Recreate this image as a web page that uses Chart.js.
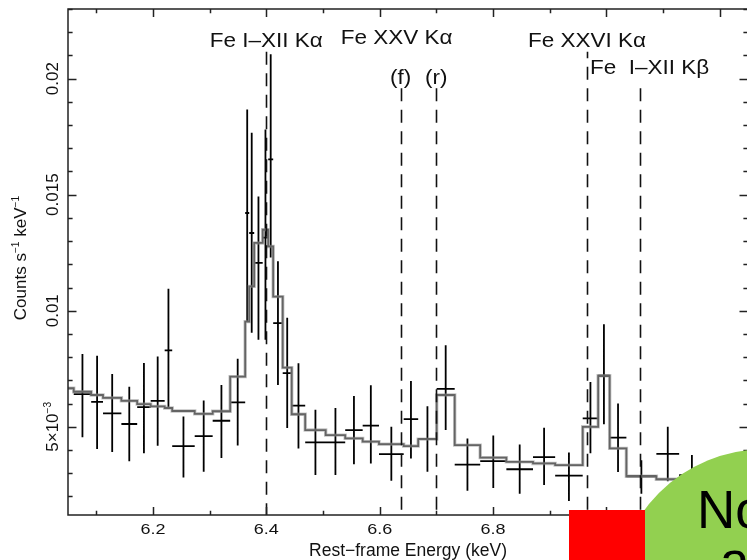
<!DOCTYPE html>
<html>
<head>
<meta charset="utf-8">
<title>Fe K line region</title>
<script src="https://cdn.jsdelivr.net/npm/chart.js@4.4.1/dist/chart.umd.min.js"></script>
<style>
  html, body { margin: 0; padding: 0; overflow: hidden; background: #fff; width: 747px; height: 560px; }
  #wrap { position: absolute; left: 0; top: 0; width: 760px; height: 560px; }
  .disc { position: absolute; left: 615px; top: 449px; width: 300px; height: 300px; border-radius: 50%; background: #92D050; }
  .block { position: absolute; left: 569px; top: 510px; width: 76px; height: 50px; background: #FF0000; }
  .note { position: absolute; font-family: "Liberation Sans", Arial, sans-serif; font-size: 53px; line-height: 53px; color: #000; white-space: nowrap; }
</style>
</head>
<body>
<div id="wrap"><canvas id="spec" width="760" height="560"></canvas></div>
<div class="disc"></div>
<div class="block"></div>
<div class="note" style="left:697px; top:483px;">No</div>
<div class="note" style="left:720px; top:534px;">a</div>
<script>
// Grouped spectrum bins (rest-frame keV): edges, counts and 1-sigma errors
const binEdges = [6.0601, 6.0909, 6.1118, 6.1442, 6.1721, 6.1959, 6.2206, 6.2339, 6.2736, 6.3053,
                  6.3362, 6.3627, 6.3698, 6.3786, 6.3936, 6.4033, 6.4121, 6.4289, 6.4448, 6.4686,
                  6.5047, 6.5392, 6.5700, 6.5988, 6.6424, 6.6680, 6.7006, 6.7324, 6.7774, 6.8236,
                  6.8706, 6.9097, 6.9583, 6.9856, 7.0059, 7.0354, 7.0883, 7.1285, 7.1735];
const counts = [0.00641, 0.00607, 0.00558, 0.00512, 0.00585, 0.00612, 0.00829, 0.00417, 0.00460, 0.00526,
                0.00605, 0.01421, 0.01335, 0.01206, 0.01315, 0.01652, 0.00947, 0.00731, 0.00591, 0.00433,
                0.00433, 0.00486, 0.00505, 0.00382, 0.00533, 0.00447, 0.00663, 0.00337, 0.00352, 0.00317,
                0.00369, 0.00290, 0.00536, 0.00720, 0.00453, 0.00287, 0.00383, 0.00292];
const errHigh = [0.00173, 0.00199, 0.00170, 0.00161, 0.00190, 0.00191, 0.00266, 0.00127, 0.00153, 0.00154,
                 0.00188, 0.00446, 0.00432, 0.00286, 0.00466, 0.00453, 0.00266, 0.00239, 0.00183, 0.00140,
                 0.00148, 0.00147, 0.00174, 0.00118, 0.00164, 0.00141, 0.00188, 0.00113, 0.00110, 0.00107,
                 0.00127, 0.00099, 0.00157, 0.00222, 0.00147, 0.00069, 0.00117, 0.00086];
const errLow = [0.00186, 0.00203, 0.00167, 0.00160, 0.00199, 0.00194, 0.00250, 0.00135, 0.00154, 0.00160,
                0.00186, 0.00469, 0.00430, 0.00331, 0.00440, 0.00423, 0.00267, 0.00236, 0.00184, 0.00141,
                0.00141, 0.00147, 0.00163, 0.00114, 0.00170, 0.00141, 0.00177, 0.00113, 0.00116, 0.00105,
                0.00120, 0.00110, 0.00150, 0.00209, 0.00148, 0.00075, 0.00118, 0.00090];
// Folded model, one level per bin (plus the tail of the bin left of the plotted range)
const modelStart = 0.00666;
const model = [0.00651, 0.00637, 0.00625, 0.00612, 0.00598, 0.00588, 0.00581, 0.00568, 0.00556, 0.00567,
               0.00716, 0.00953, 0.01105, 0.01292, 0.01349, 0.01277, 0.01061, 0.00755, 0.00554, 0.00486,
               0.00464, 0.00450, 0.00436, 0.00425, 0.00417, 0.00447, 0.00637, 0.00421, 0.00367, 0.00349,
               0.00342, 0.00335, 0.00500, 0.00720, 0.00407, 0.00287, 0.00274, 0.00266];

// Line identifications (keV)
const lineEnergies = [6.400, 6.637, 6.700, 6.966, 7.060];
const lineLabels = ['Fe I–XII Kα', '(f)', '(r)', 'Fe XXVI Kα', 'Fe  I–XII Kβ'];
const tripletLabel = 'Fe XXV Kα';

// Axis ticks
const xMajorTicks = [6.2, 6.4, 6.6, 6.8, 7.0, 7.2];
const xTickLabels = ['6.2', '6.4', '6.6', '6.8', '7.0', '7.2'];
const yMajorTicks = [0.005, 0.01, 0.015, 0.02];
const yTickLabels = [[{ t: '5×10' }, { t: '−3', sup: true }], [{ t: '0.01' }], [{ t: '0.015' }], [{ t: '0.02' }]];
const xTitle = 'Rest−frame Energy (keV)';
const yTitle = [{ t: 'Counts s' }, { t: '−1', sup: true }, { t: ' keV' }, { t: '−1', sup: true }];

// ---- datasets built from the arrays above ----
const modelPts = [{ x: 6.05, y: modelStart }];
for (let i = 0; i < model.length; i++) modelPts.push({ x: binEdges[i], y: model[i] });
modelPts.push({ x: binEdges[binEdges.length - 1], y: model[model.length - 1] });

const crossPts = [];
counts.forEach((c, i) => {
  const lo = binEdges[i], hi = binEdges[i + 1], mid = (lo + hi) / 2;
  crossPts.push({ x: lo, y: c }, { x: hi, y: c }, { x: mid, y: null },
                { x: mid, y: c - errLow[i] }, { x: mid, y: c + errHigh[i] }, { x: mid, y: null });
});

const FONT = '"Liberation Sans", Arial, Helvetica, sans-serif';

function richWidth(ctx, segs, size) {
  let w = 0;
  for (const s of segs) {
    ctx.font = (s.sup ? size * 0.6 : size) + 'px ' + FONT;
    w += ctx.measureText(s.t).width;
  }
  return w;
}

function drawRich(ctx, segs, x, y, o) {
  ctx.save();
  ctx.translate(x, y);
  if (o.rot) ctx.rotate(o.rot);
  ctx.scale(o.sx || 1, o.sy || 1);
  ctx.fillStyle = o.color || '#111';
  ctx.textAlign = 'left';
  ctx.textBaseline = 'alphabetic';
  const w = richWidth(ctx, segs, o.size);
  let cx = o.align === 'left' ? 0 : -w / 2;
  for (const s of segs) {
    const sz = s.sup ? o.size * 0.6 : o.size;
    ctx.font = sz + 'px ' + FONT;
    ctx.fillText(s.t, cx, s.sup ? -o.size * 0.42 : 0);
    cx += ctx.measureText(s.t).width;
  }
  ctx.restore();
}

// Frame with inward ticks, rotated y labels, line markers and their names
const framePlugin = {
  id: 'frame',
  afterDatasetsDraw(chart) {
    const ctx = chart.ctx;
    const { left, right, top, bottom } = chart.chartArea;
    const xs = chart.scales.x, ys = chart.scales.y;

    // identification markers
    ctx.save();
    ctx.strokeStyle = '#111';
    ctx.lineWidth = 1.6;
    ctx.setLineDash([13, 8.5]);
    const markerTop = [51.7, 88.3, 88.3, 51.7, 88.3];
    const dashPhase = [0, 0, 0, 0, 0];
    dashPhase[3] = 21.5 - (88.3 - 51.7) % 21.5;
    lineEnergies.forEach((e, i) => {
      const px = Math.round(xs.getPixelForValue(e)) + 0.5;
      ctx.lineDashOffset = dashPhase[i];
      ctx.beginPath();
      ctx.moveTo(px, markerTop[i]);
      ctx.lineTo(px, bottom);
      ctx.stroke();
    });
    ctx.restore();

    // frame and ticks
    ctx.save();
    ctx.strokeStyle = '#222';
    ctx.lineWidth = 1.5;
    ctx.beginPath();
    for (let k = 61; k <= 72; k++) {
      const v = k / 10;
      const major = xMajorTicks.some(t => Math.abs(t - v) < 1e-6);
      const len = major ? 8 : 4.3;
      const px = Math.round(xs.getPixelForValue(v)) + 0.5;
      ctx.moveTo(px, bottom); ctx.lineTo(px, bottom - len);
      ctx.moveTo(px, top); ctx.lineTo(px, top + len);
    }
    for (let k = 2; k <= 23; k++) {
      const v = k / 1000;
      const major = yMajorTicks.some(t => Math.abs(t - v) < 1e-9);
      const len = major ? 8.5 : 4.6;
      const py = Math.round(ys.getPixelForValue(v)) + 0.5;
      ctx.moveTo(left, py); ctx.lineTo(left + len, py);
      ctx.moveTo(right, py); ctx.lineTo(right - len, py);
    }
    ctx.stroke();
    ctx.strokeRect(left, top, right - left, bottom - top);
    ctx.restore();

    // tick labels
    xMajorTicks.forEach((v, i) => {
      drawRich(ctx, [{ t: xTickLabels[i] }], xs.getPixelForValue(v), 534, { size: 15, sx: 1.2 });
    });
    yMajorTicks.forEach((v, i) => {
      drawRich(ctx, yTickLabels[i], 58, ys.getPixelForValue(v), { size: 17, rot: -Math.PI / 2 });
    });

    // axis titles
    drawRich(ctx, [{ t: xTitle }], (left + right) / 2, 556, { size: 17.5 });
    drawRich(ctx, yTitle, 26, 258, { size: 17, rot: -Math.PI / 2 });

    // line names
    const lab = { size: 22.5, sy: 0.92 };
    const pf = xs.getPixelForValue(lineEnergies[1]);
    drawRich(ctx, [{ t: lineLabels[0] }], xs.getPixelForValue(lineEnergies[0]), 46.5, lab);
    drawRich(ctx, [{ t: tripletLabel }], pf - 4, 44.3, lab);
    drawRich(ctx, [{ t: lineLabels[1] }], pf, 83.5, lab);
    drawRich(ctx, [{ t: lineLabels[2] }], xs.getPixelForValue(lineEnergies[2]), 83.5, lab);
    drawRich(ctx, [{ t: lineLabels[3] }], xs.getPixelForValue(lineEnergies[3]), 46.5, lab);
    drawRich(ctx, [{ t: lineLabels[4] }], xs.getPixelForValue(lineEnergies[3]) + 3, 74, Object.assign({ align: 'left' }, lab));
  }
};

new Chart(document.getElementById('spec'), {
  type: 'scatter',
  data: {
    datasets: [
      { label: 'model halo', data: modelPts, showLine: true, stepped: true, borderColor: 'rgba(140,140,140,0.5)', borderWidth: 3.4, pointRadius: 0, fill: false },
      { label: 'model', data: modelPts, showLine: true, stepped: true, borderColor: '#3d3d3d', borderWidth: 1.8, pointRadius: 0, fill: false },
      { label: 'data', data: crossPts, showLine: true, spanGaps: false, borderColor: '#000', borderWidth: 1.8, pointRadius: 0, fill: false, borderCapStyle: 'butt' }
    ]
  },
  options: {
    responsive: false,
    devicePixelRatio: 1,
    animation: false,
    layout: { padding: { left: 68, top: 9, right: 12, bottom: 45 } },
    scales: {
      x: { type: 'linear', min: 6.05, max: 7.25, display: false },
      y: { type: 'linear', min: 0.0012, max: 0.023, display: false }
    },
    plugins: { legend: { display: false }, tooltip: { enabled: false } }
  },
  plugins: [framePlugin]
});
</script>
</body>
</html>
